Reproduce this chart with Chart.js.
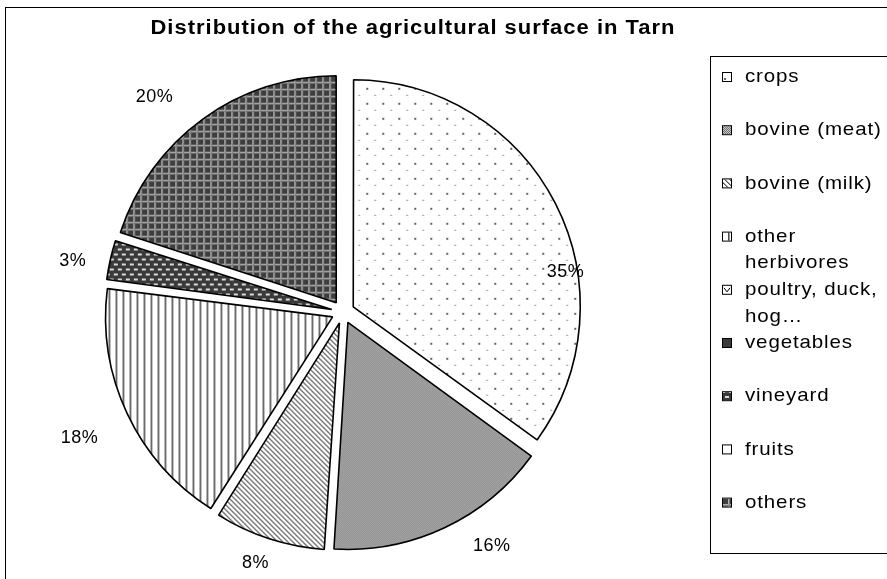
<!DOCTYPE html>
<html>
<head>
<meta charset="utf-8">
<script src="https://cdn.jsdelivr.net/npm/chart.js@4.4.0/dist/chart.umd.min.js"></script>
<style>
  html, body { margin: 0; padding: 0; background: #fff; overflow: hidden; }
  #wrap { width: 887px; height: 579px; position: relative; }
</style>
</head>
<body>
<div id="wrap"><canvas id="pie"></canvas></div>
<script>
const chartTitle = 'Distribution of the agricultural surface in Tarn';
const categories = ['crops', 'bovine (meat)', 'bovine (milk)', 'other herbivores',
  'poultry, duck, hog…', 'vegetables', 'vineyard', 'fruits', 'others'];
const legendLines = [['crops'], ['bovine (meat)'], ['bovine (milk)'], ['other', 'herbivores'],
  ['poultry, duck,', 'hog…'], ['vegetables'], ['vineyard'], ['fruits'], ['others']];
const shares = [35, 16, 8, 18, 0, 0, 3, 0, 20];

const FONT = '"Liberation Sans", Arial, sans-serif';
const canvas = document.getElementById('pie');
const ctx = canvas.getContext('2d');

// small tiles turned into fill patterns, like the excel b/w fills
function tile(w, h, paint) {
    const c = document.createElement('canvas');
    c.width = w; c.height = h;
    const g = c.getContext('2d');
    paint(g, w, h);
    return ctx.createPattern(c, 'repeat');
}
function px(g, x, y, col, w, h) { g.fillStyle = col; g.fillRect(x, y, w || 1, h || 1); }

const fills = [
    // crops: sparse dots
    tile(16, 15, (g, w, h) => { px(g, 0, 0, '#fff', w, h); px(g, 4, 3, '#666', 2, 2); px(g, 12, 10, '#999', 2, 1); }),
    // bovine meat: fine checker
    tile(2, 2, g => { px(g, 0, 0, '#707070'); px(g, 1, 1, '#707070'); px(g, 1, 0, '#c8c8c8'); px(g, 0, 1, '#c8c8c8'); }),
    // bovine milk: diagonal stripes
    tile(5, 5, (g, w, h) => { px(g, 0, 0, '#fff', w, h); for (let i = 0; i < 5; i++) { px(g, i, i, '#555'); px(g, (i + 1) % 5, i, '#999'); } }),
    // other herbivores: vertical lines
    tile(7, 1, (g, w, h) => { px(g, 0, 0, '#fff', w, h); px(g, 0, 0, '#4a4a4a'); px(g, 1, 0, '#9a9a9a'); }),
    '#ffffff',
    '#3a3a3a',
    // vineyard: dark with light dashes
    tile(8, 10, (g, w, h) => { px(g, 0, 0, '#3a3a3a', w, h); px(g, 1, 1, '#dcdcdc', 4, 2); px(g, 5, 6, '#dcdcdc', 4, 2); px(g, 0, 6, '#dcdcdc', 1, 2); }),
    '#ffffff',
    // others: dark squares, light grid
    tile(7, 7, (g, w, h) => { px(g, 0, 0, '#3e3e3e', w, h); px(g, 0, 0, '#b0b0b0', 1, h); px(g, 0, 0, '#b0b0b0', w, 1); px(g, 1, 0, '#7c7c7c', 1, h); px(g, 0, 1, '#7c7c7c', w, 1); })
];

// where each percentage sits: turn from slice middle (deg) and distance past the rim (px)
const labelNudge = [[16.8, -1], [-7.3, 50], [1.2, 39], [-0.3, 65], [0, 0], [0, 0], [-1.9, 48], [0, 0], [-5.2, 59]];

const EXPLODE = 46; // chart.js moves an arc by offset/4

// excel's export draws its text a bit wider than the font
function wideText(c, text, x, y, sx, spacing) {
    c.save();
    c.translate(x, y);
    c.scale(sx, 1);
    c.letterSpacing = spacing + 'px';
    c.fillText(text, 0, 0);
    c.restore();
}

const decor = {
    id: 'decor',
    beforeDraw(chart) {
        const c = chart.ctx;
        c.save();
        c.strokeStyle = '#000';
        c.lineWidth = 1;
        c.strokeRect(5.5, 7.5, chart.width + 10, chart.height + 10);
        c.restore();
    },
    beforeDatasetsDraw(chart) {
        // chart.js grows narrow exploded arcs; keep every slice on one radius
        const meta = chart.getDatasetMeta(0);
        const R = meta.controller.outerRadius;
        meta.data.forEach(arc => {
            const circ = arc.endAngle - arc.startAngle;
            const fix = 1 - Math.sin(Math.min(Math.PI, circ));
            arc.outerRadius = R - (EXPLODE / 4) * fix;
        });
    },
    afterDraw(chart) {
        const c = chart.ctx;
        c.save();
        // title
        c.fillStyle = '#000';
        c.font = 'bold 20px ' + FONT;
        c.textAlign = 'center';
        c.textBaseline = 'middle';
        wideText(c, chartTitle, 413, 28, 1.1, 0.9);

        // percentages
        const meta = chart.getDatasetMeta(0);
        const R = meta.controller.outerRadius;
        c.font = '18px ' + FONT;
        meta.data.forEach((arc, i) => {
            if (!shares[i]) return;
            const mid = (arc.startAngle + arc.endAngle) / 2 + labelNudge[i][0] * Math.PI / 180;
            const d = R + labelNudge[i][1];
            wideText(c, shares[i] + '%', arc.x + Math.cos(mid) * d, arc.y + Math.sin(mid) * d, 1.0, 0.5);
        });

        // legend box
        c.strokeStyle = '#000';
        c.lineWidth = 1;
        c.strokeRect(710.5, 56.5, 200, 497);
        c.textAlign = 'left';
        c.font = '19px ' + FONT;
        legendLines.forEach((lines, i) => {
            const y = 77 + i * 53.2;
            c.fillStyle = fills[i];
            c.fillRect(723, y - 4, 8, 8);
            c.strokeStyle = '#000';
            c.strokeRect(722.5, y - 4.5, 9, 9);
            if (i === 4) {
                c.beginPath();
                c.moveTo(724, y - 2); c.lineTo(727, y + 2); c.lineTo(730, y - 2);
                c.stroke();
            }
            c.fillStyle = '#000';
            lines.forEach((t, k) => wideText(c, t, 745, y + k * 26.6, 1.08, 0.8));
        });
        c.restore();
    }
};

new Chart(canvas, {
    type: 'pie',
    data: {
        labels: categories,
        datasets: [{
            data: shares,
            backgroundColor: fills,
            borderColor: '#000',
            borderWidth: 1.6,
            offset: EXPLODE,
            hoverOffset: EXPLODE
        }]
    },
    options: {
        responsive: true,
        maintainAspectRatio: false,
        animation: false,
        events: [],
        radius: 227,
        layout: { padding: { left: 10, right: 211, top: 50, bottom: 5 } },
        plugins: {
            legend: { display: false },
            title: { display: false },
            tooltip: { enabled: false }
        }
    },
    plugins: [decor]
});
</script>
</body>
</html>
